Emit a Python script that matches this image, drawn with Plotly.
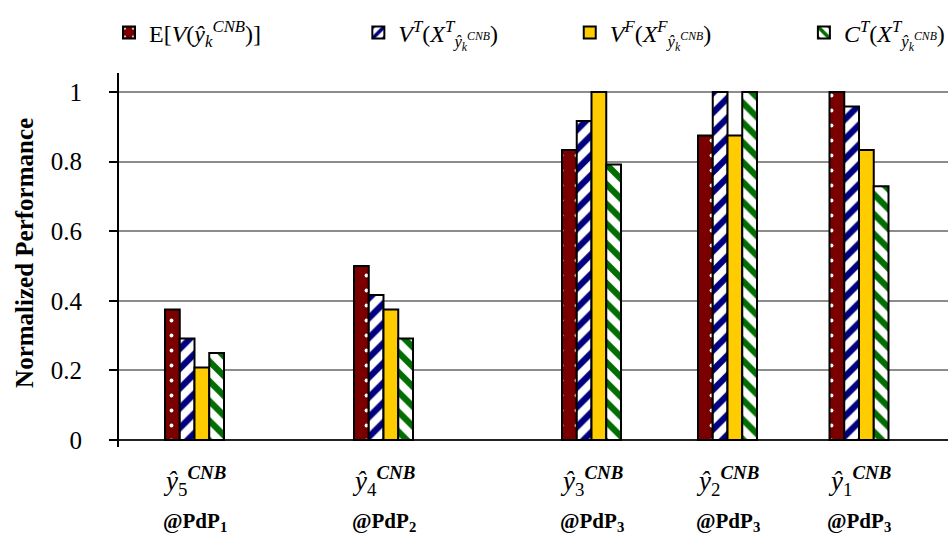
import plotly.graph_objects as go

# ---- data ----
series_names = [
    "E[<i>V</i>(<i>ŷ</i><sub><i>k</i></sub><sup><i>CNB</i></sup>)]",
    "<i>V</i><sup><i>T</i></sup>(<i>X</i><sup><i>T</i></sup><sub><i>ŷ<sub>k</sub><sup>CNB</sup></i></sub>)",
    "<i>V</i><sup><i>F</i></sup>(<i>X</i><sup><i>F</i></sup><sub><i>ŷ<sub>k</sub><sup>CNB</sup></i></sub>)",
    "<i>C</i><sup><i>T</i></sup>(<i>X</i><sup><i>T</i></sup><sub><i>ŷ<sub>k</sub><sup>CNB</sup></i></sub>)",
]
expected_v = [0.375, 0.5, 0.833, 0.875, 1.0]
v_t = [0.292, 0.417, 0.917, 1.0, 0.958]
v_f = [0.208, 0.375, 1.0, 0.875, 0.833]
c_t = [0.25, 0.292, 0.792, 1.0, 0.729]
label_top = ["5", "4", "3", "2", "1"]
label_bottom = ["1", "2", "3", "3", "3"]
y_title = "<b>Normalized Performance</b>"

# ---- layout helpers ----
group_pos = [75.5, 264.5, 472.5, 608.5, 740]
bar_w = 14.75
series = [expected_v, v_t, v_f, c_t]
styles = [
    dict(bgcolor="#7a0000", fgcolor="white", fgopacity=1, shape=".", size=15, solidity=0.05),
    dict(bgcolor="white", fgcolor="#000080", fgopacity=1, shape="/", size=14, solidity=0.45),
    None,
    dict(bgcolor="white", fgcolor="#006e00", fgopacity=1, shape="\\", size=14, solidity=0.45),
]
colors = ["#7a0000", "white", "#ffcc00", "white"]
legend_ids = ["legend", "legend2", "legend3", "legend4"]
legend_x = [0.115, 0.378, 0.601, 0.848]

serif = "Liberation Serif"
fig = go.Figure()
for i, (name, vals) in enumerate(zip(series_names, series)):
    marker = dict(color=colors[i], line=dict(color="black", width=2))
    if styles[i] is not None:
        marker["pattern"] = styles[i]
    fig.add_trace(go.Bar(
        x=group_pos, y=vals, name=name,
        width=bar_w, offset=-2 * bar_w + i * bar_w,
        marker=marker, legend=legend_ids[i],
    ))

for gx, a, b in zip(group_pos, label_top, label_bottom):
    fig.add_annotation(
        x=gx, y=-0.09, xref="x", yref="paper", yanchor="middle", showarrow=False,
        text=f"<i>ŷ</i><sub>{a}</sub><sup><b><i>CNB</i></b></sup>",
        font=dict(family=serif, size=27, color="black"),
    )
    fig.add_annotation(
        x=gx, y=-0.2, xref="x", yref="paper", yanchor="middle", showarrow=False,
        text=f"<b>@PdP<sub>{b}</sub></b>",
        font=dict(family=serif, size=21, color="black"),
    )

fig.add_annotation(
    x=-0.1134, y=0.519, xref="paper", yref="paper", xanchor="center", yanchor="middle",
    textangle=-90, showarrow=False, text=y_title,
    font=dict(family=serif, size=25, color="black"),
)

legend_common = dict(
    orientation="h", xref="container", yref="container",
    y=1 - 33 / 535, yanchor="middle", xanchor="left",
    font=dict(family=serif, size=24, color="black"),
    bgcolor="rgba(0,0,0,0)",
)
layout_legends = {lid: dict(legend_common, x=lx) for lid, lx in zip(legend_ids, legend_x)}

fig.update_layout(
    width=948, height=535,
    margin=dict(l=119, r=0, t=73, b=88, autoexpand=False),
    plot_bgcolor="white", paper_bgcolor="white",
    barmode="overlay",
    font=dict(family=serif, color="black"),
    showlegend=True,
    xaxis=dict(range=[0, 829], showticklabels=False, showgrid=False,
               zeroline=False, showline=False, ticks=""),
    yaxis=dict(
        range=[-0.0201, 1.0546], dtick=0.2, tick0=0,
        showgrid=True, gridcolor="#8c8c8c", gridwidth=2,
        zeroline=True, zerolinecolor="#222222", zerolinewidth=2,
        showline=True, linecolor="black", linewidth=2,
        ticks="outside", ticklen=8, tickwidth=1.5, tickcolor="black",
        ticklabelstandoff=22,
        tickfont=dict(family=serif, size=25, color="black"),
    ),
    **layout_legends,
)

fig.write_html("out.html", config={"displayModeBar": False},
               post_script="document.body.style.margin='0';")
